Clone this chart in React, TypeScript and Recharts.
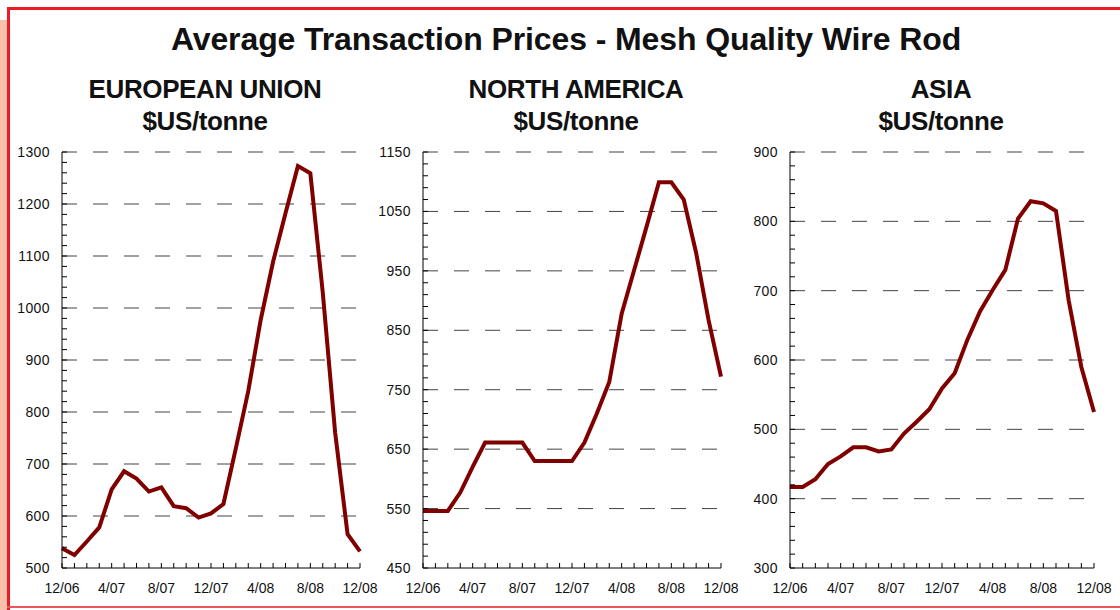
import React from 'react';
import { LineChart, Line, XAxis, YAxis, CartesianGrid } from 'recharts';

const monthLabels = ['12/06','1/07','2/07','3/07','4/07','5/07','6/07','7/07','8/07','9/07','10/07','11/07','12/07','1/08','2/08','3/08','4/08','5/08','6/08','7/08','8/08','9/08','10/08','11/08','12/08'];
const shownLabels = ['12/06','4/07','8/07','12/07','4/08','8/08','12/08'];

const euPrices = [538, 525, 551, 578, 651, 686, 672, 647, 655, 619, 615, 597, 605, 623, 730, 840, 977, 1089, 1182, 1273, 1259, 1030, 760, 565, 532];
const naPrices = [546, 546, 546, 577, 620, 661, 661, 661, 661, 630, 630, 630, 630, 661, 710, 763, 878, 951, 1024, 1099, 1099, 1070, 980, 867, 772];
const asiaPrices = [417, 417, 428, 450, 461, 474, 474, 468, 471, 494, 511, 529, 559, 581, 629, 670, 701, 730, 804, 829, 826, 815, 686, 590, 525];

const euTicks = [500, 600, 700, 800, 900, 1000, 1100, 1200, 1300];
const naTicks = [450, 550, 650, 750, 850, 950, 1050, 1150];
const asiaTicks = [300, 400, 500, 600, 700, 800, 900];

const FONT = '"Liberation Sans", Arial, Helvetica, sans-serif';

function minorTicks(major: number[]) {
  const out: number[] = [];
  const lo = major[0];
  const hi = major[major.length - 1];
  for (let v = lo; v <= hi; v += 20) out.push(v);
  return out;
}

const xIdx = monthLabels.map((_, i) => i);

const XTick = (props: any) => {
  const { x, y, payload } = props;
  const lab = monthLabels[payload.value];
  const show = shownLabels.includes(lab);
  return (
    <g>
      <line x1={x} x2={x} y1={y} y2={y - 5} stroke="#000" strokeWidth={1} />
      {show && (
        <text x={x} y={y + 25} textAnchor="middle" fontSize={14} fontFamily={FONT} fill="#111">
          {lab}
        </text>
      )}
    </g>
  );
};

const makeYTick = (major: number[]) => (props: any) => {
  const { x, y, payload } = props;
  const show = major.includes(payload.value);
  return (
    <g>
      <line x1={x} x2={x + 5} y1={y} y2={y} stroke="#000" strokeWidth={1} />
      {show && (
        <text x={x - 12} y={y} dy="0.36em" textAnchor="end" fontSize={14} fontFamily={FONT} fill="#111" letterSpacing={0.4}>
          {payload.value}
        </text>
      )}
    </g>
  );
};

type PanelProps = {
  values: number[];
  major: number[];
  left: number;
  width: number;
};

const Panel = ({ values, major, left, width }: PanelProps) => {
  const data = values.map((v, i) => ({ i, v }));
  return (
    <div style={{ position: 'absolute', left, top: 0 }}>
      <LineChart width={width} height={610} data={data} margin={{ top: 152, right: 20, bottom: 12, left: 0 }}>
        <CartesianGrid vertical={false} horizontalValues={major.slice(1)} strokeDasharray="15 16" stroke="#444" />
        <XAxis
          dataKey="i"
          type="number"
          domain={[0, 24]}
          ticks={xIdx}
          interval={0}
          tickSize={0}
          tickMargin={0}
          tickLine={false}
          axisLine={{ stroke: '#000' }}
          tick={XTick}
          height={30}
        />
        <YAxis
          type="number"
          domain={[major[0], major[major.length - 1]]}
          ticks={minorTicks(major)}
          interval={0}
          tickSize={0}
          tickMargin={0}
          tickLine={false}
          axisLine={{ stroke: '#000' }}
          tick={makeYTick(major)}
          width={62}
        />
        <Line type="linear" dataKey="v" stroke="#800000" strokeWidth={4} dot={false} isAnimationActive={false} strokeLinejoin="miter" />
      </LineChart>
    </div>
  );
};

const headStyle: React.CSSProperties = {
  position: 'absolute',
  fontFamily: FONT,
  fontWeight: 'bold',
  color: '#111',
  textAlign: 'center',
  whiteSpace: 'nowrap',
  transform: 'translateX(-50%)',
};

const panelHeads = [
  { x: 205, name: 'EUROPEAN UNION' },
  { x: 576, name: 'NORTH AMERICA' },
  { x: 941, name: 'ASIA' },
];

export default function App() {
  return (
    <div style={{ position: 'absolute', left: 0, top: 0, width: 1120, height: 610, background: '#fff', overflow: 'hidden' }}>
      <div style={{ position: 'absolute', left: 0, top: 20, width: 7, height: 590, background: '#fbc0aa' }} />
      <div style={{ position: 'absolute', left: 7, top: 7, width: 1113, height: 3, background: '#ec1c24' }} />
      <div style={{ position: 'absolute', left: 7, top: 7, width: 3, height: 603, background: '#ec1c24' }} />
      <div style={{ position: 'absolute', left: 7, top: 606, width: 1113, height: 2, background: '#e85a5a' }} />

      <div style={{ ...headStyle, left: 566, top: 21, fontSize: 32, lineHeight: '36px', letterSpacing: -0.1 }}>
        Average Transaction Prices - Mesh Quality Wire Rod
      </div>

      {panelHeads.map((h) => (
        <div key={h.name} style={{ ...headStyle, left: h.x, top: 73, fontSize: 26, lineHeight: '32px', letterSpacing: -0.4 }}>
          <div>{h.name}</div>
          <div>$US/tonne</div>
        </div>
      ))}

      <Panel values={euPrices} major={euTicks} left={0} width={380} />
      <Panel values={naPrices} major={naTicks} left={361} width={380} />
      <Panel values={asiaPrices} major={asiaTicks} left={728} width={386} />
    </div>
  );
}
